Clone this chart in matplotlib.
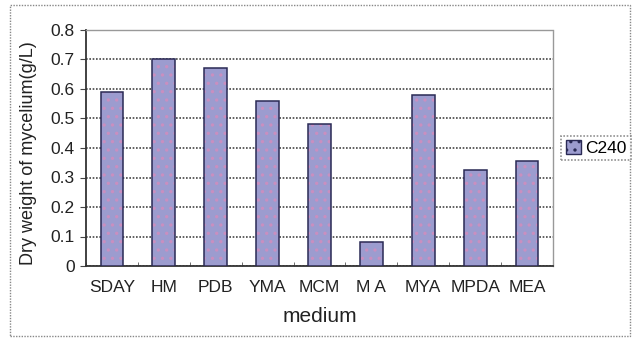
import matplotlib
matplotlib.use("Agg")
import matplotlib.pyplot as plt
from matplotlib.patches import Rectangle
import numpy as np

plt.rcParams['font.family'] = ['Liberation Sans', 'DejaVu Sans']
plt.rcParams['hatch.linewidth'] = 1.2

media = ["SDAY", "HM", "PDB", "YMA", "MCM", "M A", "MYA", "MPDA", "MEA"]
dry_weight = [0.59, 0.70, 0.67, 0.56, 0.48, 0.08, 0.58, 0.325, 0.355]
series_name = "C240"
y_ticks = [0, 0.1, 0.2, 0.3, 0.4, 0.5, 0.6, 0.7, 0.8]

W, H = 635, 339
fig = plt.figure(figsize=(W / 100, H / 100), dpi=100)

# outer chart frame
fig.patches.append(Rectangle((10 / W, 1 - 336 / H), 620 / W, 331 / H,
                             transform=fig.transFigure, fill=False,
                             edgecolor='#888888', lw=1.0, linestyle=(0, (1, 1))))

ax = fig.add_axes([86 / W, 1 - 266 / H, (553 - 86) / W, (266 - 30) / H])
x = np.arange(len(media))
bar_w = 0.44
face = '#9c9ccf'
# fill with a fine dotted texture, then a dark outline on top
ax.bar(x, dry_weight, width=bar_w, color=face, edgecolor='#c98fc0',
       hatch='..', linewidth=0, zorder=3)
ax.bar(x, dry_weight, width=bar_w, fill=False, edgecolor='#2a2a55',
       linewidth=1.1, zorder=4, label=series_name)

ax.set_xlim(-0.5, len(media) - 0.5)
ax.set_ylim(0, 0.8)
ax.set_yticks(y_ticks)
ax.set_yticklabels([f"{v:g}" for v in y_ticks])
ax.set_xticks(x)
ax.set_xticklabels(media)
ax.set_xticks(np.arange(len(media) + 1) - 0.5, minor=True)
ax.tick_params(axis='x', which='major', length=0, pad=10, labelsize=12.5, colors='#222222')
ax.tick_params(axis='x', which='minor', length=3, direction='in', color='#555555')
ax.tick_params(axis='y', length=4, direction='out', pad=4, labelsize=12.5,
               color='#444444', labelcolor='#222222')

ax.yaxis.grid(True, color='#444444', linestyle=(0, (1, 1)), linewidth=1.2, zorder=1)
ax.set_axisbelow(True)
for side in ['left', 'bottom']:
    ax.spines[side].set_color('#333333')
    ax.spines[side].set_linestyle((0, (1, 1)))
    ax.spines[side].set_linewidth(1.3)
for side in ['top', 'right']:
    ax.spines[side].set_color('#999999')
    ax.spines[side].set_linestyle((0, (1, 1)))
    ax.spines[side].set_linewidth(1.0)

ax.set_xlabel("medium", fontsize=15, color='#222222', labelpad=9)
ax.set_ylabel("Dry weight of mycelium(g/L)", fontsize=13, color='#222222')
ax.yaxis.set_label_coords(-0.105, 0.48)

leg = fig.legend(handles=[Rectangle((0, 0), 1, 1, facecolor=face, edgecolor='#2a2a55',
                                    hatch='..', lw=1.0)],
                 labels=[series_name], loc='center', bbox_to_anchor=(596 / W, 1 - 148 / H),
                 fontsize=12.5, frameon=True, fancybox=False, handlelength=0.9,
                 handleheight=0.9, handletextpad=0.2, borderpad=0.25)
leg.get_frame().set_edgecolor('#777777')
leg.get_frame().set_linestyle((0, (1, 1)))
leg.get_frame().set_linewidth(1.2)

fig.savefig("out.png", dpi=100)
